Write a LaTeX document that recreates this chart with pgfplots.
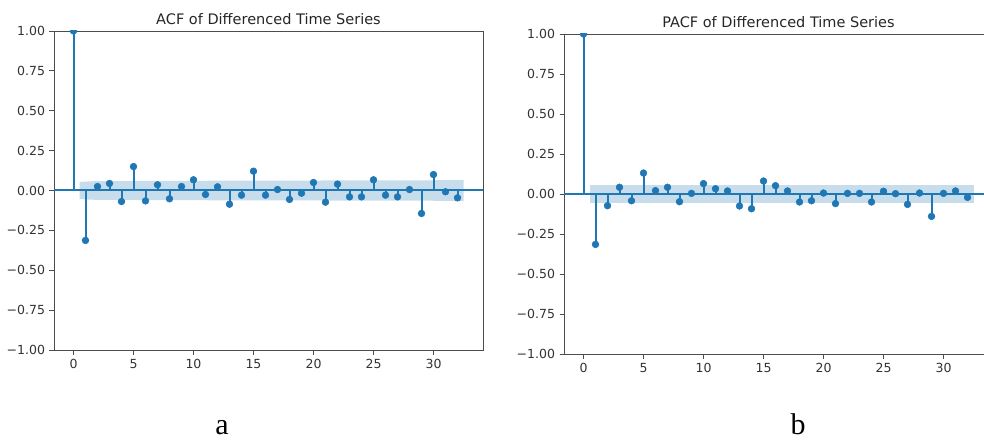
\documentclass[border=0pt]{standalone}
\usepackage{fontspec}
\setmainfont{DejaVu Sans}
\newfontfamily\capfont{Liberation Serif}
\usepackage{pgfplots}
\pgfplotsset{compat=1.18}
\definecolor{c0}{HTML}{1F77B4}

\pgfplotsset{
  corr/.style={
    scale only axis, width=429pt, anchor=south west,
    xmin=-1.625, xmax=34.125, ymin=-1, ymax=1,
    xtick={0,5,...,30},
    ytick={-1,-0.75,-0.5,-0.25,0,0.25,0.5,0.75,1},
    yticklabels={−1.00,−0.75,−0.50,−0.25,0.00,0.25,0.50,0.75,1.00},
    tick align=outside, tick pos=left,
    major tick length=4.5pt,
    tick style={black!70, line width=0.8pt},
    axis line style={black!70, line width=0.8pt},
    ticklabel style={font=\fontsize{12.5}{14}\selectfont, text=black!80},
    yticklabel style={xshift=-1pt},
    xticklabel style={yshift=-1pt},
    /pgf/number format/assume math mode=true,
    clip marker paths=true,
    title style={font=\fontsize{14.5}{16}\selectfont, text=black!85,
      at={(0.5,1)}, anchor=base, yshift=0.5pt},
  },
  stem/.style={c0, ycomb, mark=*, mark size=3.4pt, line width=2pt,
    mark options={draw=c0, fill=c0, line width=0.5pt}},
  band/.style={fill=c0, fill opacity=0.25, draw=none},
}

\begin{document}
\begin{tikzpicture}
\useasboundingbox (0,0) rectangle (984pt,439pt);
\clip (0,0) rectangle (984pt,439pt);

% ACF
\begin{axis}[corr, height=319pt, at={(54pt,89pt)},
  title={ACF of Differenced Time Series}]
\addplot[stem] coordinates {
  (0,1.000) (1,-0.313) (2,0.025) (3,0.044) (4,-0.069) (5,0.150) (6,-0.065)
  (7,0.036) (8,-0.052) (9,0.025) (10,0.067) (11,-0.025) (12,0.023)
  (13,-0.086) (14,-0.029) (15,0.121) (16,-0.029) (17,0.006) (18,-0.056)
  (19,-0.017) (20,0.050) (21,-0.073) (22,0.040) (23,-0.040) (24,-0.040)
  (25,0.067) (26,-0.029) (27,-0.040) (28,0.006) (29,-0.144) (30,0.100)
  (31,-0.008) (32,-0.046)};
\addplot[c0, line width=2pt] coordinates {(-1.625,0) (34.125,0)};
\addplot[band] coordinates {
  (0.5,0.054) (2,0.0591) (5,0.0594) (6,0.0605) (15,0.0616) (16,0.0623)
  (29,0.0634) (30,0.0643) (31,0.0648) (32.5,0.0648)
  (32.5,-0.0648) (31,-0.0648) (30,-0.0643) (29,-0.0634) (16,-0.0623)
  (15,-0.0616) (6,-0.0605) (5,-0.0594) (2,-0.0591) (0.5,-0.054)} -- cycle;
\end{axis}

% PACF
\begin{axis}[corr, height=320pt, at={(564pt,85pt)},
  title={PACF of Differenced Time Series}]
\addplot[stem] coordinates {
  (0,1.000) (1,-0.315) (2,-0.073) (3,0.042) (4,-0.042) (5,0.131) (6,0.021)
  (7,0.042) (8,-0.048) (9,0.004) (10,0.065) (11,0.033) (12,0.019)
  (13,-0.075) (14,-0.092) (15,0.081) (16,0.052) (17,0.019) (18,-0.050)
  (19,-0.042) (20,0.006) (21,-0.060) (22,0.004) (23,0.004) (24,-0.050)
  (25,0.017) (26,0.002) (27,-0.065) (28,0.006) (29,-0.140) (30,0.004)
  (31,0.019) (32,-0.021)};
\addplot[c0, line width=2pt] coordinates {(-1.625,0) (34.125,0)};
\addplot[band] coordinates {
  (0.5,0.054) (32.5,0.054) (32.5,-0.054) (0.5,-0.054)} -- cycle;
\end{axis}

\node[anchor=base, font=\capfont\fontsize{30}{30}\selectfont] at (222pt,4.5pt) {a};
\node[anchor=base, font=\capfont\fontsize{30}{30}\selectfont] at (798pt,4.5pt) {b};
\end{tikzpicture}
\end{document}
